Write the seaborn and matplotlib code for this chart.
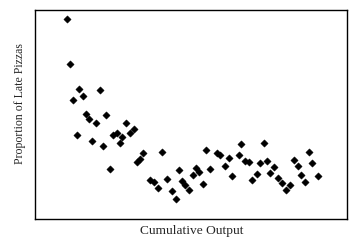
import matplotlib
matplotlib.use("Agg")
import matplotlib.pyplot as plt
import seaborn as sns
import pandas as pd

cumulative_output = [31.7, 35, 37.7, 41.7, 44, 47.7, 50.7, 53.7, 56.7, 60.5,
                     64.3, 67.3, 70.8, 74.3, 77.7, 81.3, 84.3, 86.7, 90.7, 95,
                     98.7, 101.7, 105, 108, 114.3, 118.3, 122.8, 126.8, 131.8, 136.7,
                     140.2, 143.8, 146.7, 149.5, 153.8, 157.5, 160.8, 163.8, 167.7, 171,
                     174.7, 181.7, 185, 190, 193.7, 196.7, 203.5, 205.7, 209.8, 213.3,
                     216.8, 221.5, 225, 228.3, 231.7, 235, 238.3, 242.5, 246.7, 250.5,
                     254.2, 258.8, 262.7, 266, 269.8, 273.8, 276.8, 282.5]
late_proportion = [0.958, 0.744, 0.569, 0.402, 0.621, 0.589, 0.502, 0.479, 0.374, 0.459,
                   0.616, 0.350, 0.498, 0.238, 0.402, 0.414, 0.363, 0.394, 0.459, 0.411,
                   0.430, 0.272, 0.287, 0.314, 0.188, 0.179, 0.148, 0.320, 0.193, 0.134,
                   0.094, 0.236, 0.184, 0.163, 0.139, 0.212, 0.243, 0.223, 0.169, 0.332,
                   0.238, 0.316, 0.305, 0.255, 0.292, 0.207, 0.308, 0.358, 0.276, 0.271,
                   0.186, 0.214, 0.270, 0.365, 0.279, 0.222, 0.249, 0.198, 0.172, 0.140,
                   0.164, 0.281, 0.256, 0.209, 0.176, 0.322, 0.269, 0.208]

df = pd.DataFrame({"Cumulative Output": cumulative_output,
                   "Proportion of Late Pizzas": late_proportion})

sns.set_style("white")
plt.rcParams["font.family"] = ["Liberation Serif", "DejaVu Serif"]

fig = plt.figure(figsize=(3.63, 2.46), dpi=100)
ax = fig.add_axes([35.3 / 363, 1 - 219 / 246, 312 / 363, 208.7 / 246])
sns.scatterplot(data=df, x="Cumulative Output", y="Proportion of Late Pizzas",
                marker="D", s=14, color="black", edgecolor="black", linewidth=0.3, ax=ax)
ax.set_xlim(0, 312)
ax.set_ylim(0, 1)
ax.set_xticks([])
ax.set_yticks([])
for sp in ax.spines.values():
    sp.set_color("black")
    sp.set_linewidth(1.0)
ax.set_xlabel("Cumulative Output", fontsize=9.6)
ax.set_ylabel("Proportion of Late Pizzas", fontsize=8.5)
ax.xaxis.set_label_coords(0.5, -0.027)
ax.yaxis.set_label_coords(-0.030, 0.551)
fig.savefig("out.png", dpi=100)
